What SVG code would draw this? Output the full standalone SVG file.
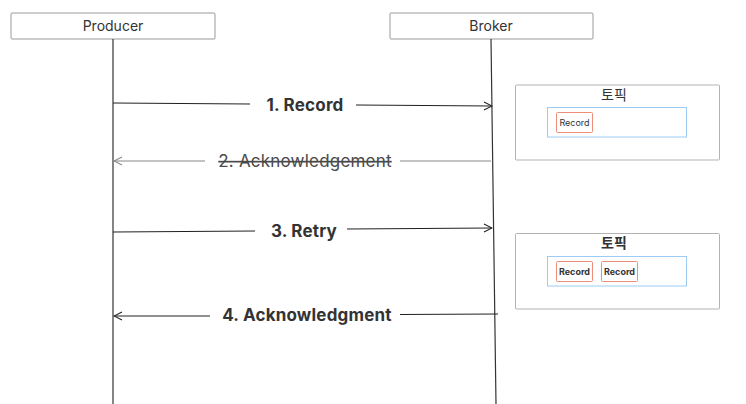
<svg xmlns="http://www.w3.org/2000/svg" width="746" height="404" viewBox="0 0 746 404">
<defs>
<style>
.actor{fill:#fff;stroke:#9a9a9a;stroke-width:1}
.actorText{font-family:Inter,"Noto Sans",sans-serif;font-size:14px;fill:#333;text-anchor:middle}
.life{stroke:#333;stroke-width:1.2;fill:none}
.msg{stroke:#222;stroke-width:1.1;fill:none}
.msgGray{stroke:#888;stroke-width:1.1;fill:none}
.lbl{font-family:Inter,"Noto Sans",sans-serif;font-size:17px;font-weight:700;fill:#333;text-anchor:middle;letter-spacing:0.2px}
.lblGray{font-family:Inter,"Noto Sans",sans-serif;font-size:17px;font-weight:400;fill:#4a4a4a;text-anchor:middle;text-decoration:line-through;letter-spacing:0.2px}
.topic{fill:#fff;stroke:#b3b3b3;stroke-width:1}
.topicText{font-family:Inter,"Noto Sans CJK KR",sans-serif;font-size:14px;fill:#333;text-anchor:middle}
.part{fill:#fff;stroke:#9ccbf5;stroke-width:1}
.rec{fill:#fff;stroke:#ec8f7a;stroke-width:1}
.recText{font-family:Inter,"Noto Sans",sans-serif;font-size:9px;fill:#333;text-anchor:middle}
</style>
<marker id="open" viewBox="0 0 10 10" refX="9" refY="5" markerWidth="10" markerHeight="10" markerUnits="userSpaceOnUse" orient="auto">
<path d="M1,1 L9,5 L1,9" fill="none" stroke="#222" stroke-width="1.1"/>
</marker>
<marker id="openGray" viewBox="0 0 10 10" refX="9" refY="5" markerWidth="10" markerHeight="10" markerUnits="userSpaceOnUse" orient="auto">
<path d="M1,1 L9,5 L1,9" fill="none" stroke="#888" stroke-width="1.1"/>
</marker>
</defs>
<rect width="746" height="404" fill="#fff"/>

<g id="producer">
<rect class="actor" x="11" y="13" width="204" height="26" rx="1"/>
<text class="actorText" x="113" y="31">Producer</text>
<line class="life" x1="113" y1="39" x2="113" y2="404"/>
</g>

<g id="broker">
<rect class="actor" x="390" y="13" width="203" height="26" rx="1"/>
<text class="actorText" x="491" y="31">Broker</text>
<line class="life" x1="491" y1="39" x2="496" y2="404"/>
</g>

<g id="connectors">
<g id="msg1">
<path class="msg" d="M113,103 L250,104"/>
<path class="msg" d="M356,105 L492,106" marker-end="url(#open)"/>
<text class="lbl" x="305" y="111">1. Record</text>
</g>
<g id="msg2">
<path class="msgGray" d="M205,161 L114,161" marker-end="url(#openGray)"/>
<path class="msgGray" d="M491,161 L400,161"/>
<text class="lblGray" x="305" y="167">2. Acknowledgement</text>
</g>
<g id="msg3">
<path class="msg" d="M113,232 L255,231"/>
<path class="msg" d="M347,229 L492,228" marker-end="url(#open)"/>
<text class="lbl" x="304" y="237">3. Retry</text>
</g>
<g id="msg4">
<path class="msg" d="M210,316 L114,316" marker-end="url(#open)"/>
<path class="msg" d="M498,314 L400,314.5"/>
<text class="lbl" x="307" y="321">4. Acknowledgment</text>
</g>
</g>

<g id="topic1">
<rect class="topic" x="515.5" y="85" width="204" height="75" rx="1"/>
<text class="topicText" x="614" y="100">토픽</text>
<rect class="part" x="547.5" y="107.5" width="139" height="29.5"/>
<g id="t1rec1">
<rect class="rec" x="556.5" y="112.5" width="36" height="20" rx="1"/>
<text class="recText" x="574.5" y="126">Record</text>
</g>
</g>

<g id="topic2">
<rect class="topic" x="515.5" y="233.5" width="204" height="75.5" rx="1"/>
<text class="topicText" x="614" y="248" font-weight="700">토픽</text>
<rect class="part" x="547.5" y="256.5" width="139" height="29.5"/>
<g id="t2rec1">
<rect class="rec" x="556.5" y="261.5" width="36" height="20" rx="1"/>
<text class="recText" x="574.5" y="275" font-weight="700">Record</text>
</g>
<g id="t2rec2">
<rect class="rec" x="601.5" y="261.5" width="36" height="20" rx="1"/>
<text class="recText" x="619.5" y="275" font-weight="700">Record</text>
</g>
</g>
</svg>
